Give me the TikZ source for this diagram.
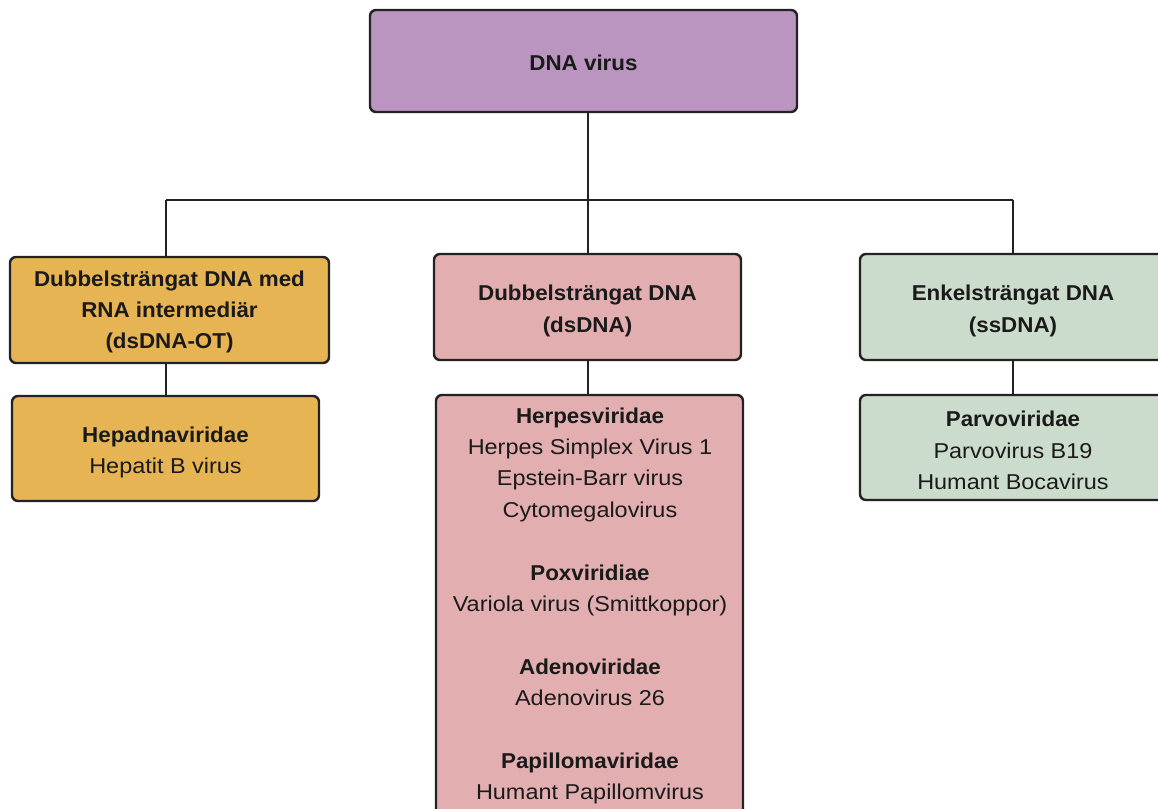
\documentclass[tikz,border=0pt]{standalone}
\usepackage{fontspec}
\setmainfont{Liberation Sans}[UprightFeatures={FakeStretch=1.09},BoldFeatures={FakeStretch=1.04}]
\definecolor{cpurple}{HTML}{B995BF}
\definecolor{corange}{HTML}{E6B453}
\definecolor{cpink}{HTML}{E2AEB0}
\definecolor{cgreen}{HTML}{CCDCCC}
\definecolor{cline}{HTML}{222222}
\definecolor{ctext}{HTML}{1A1A1A}
\tikzset{
  box/.style={draw=cline, line width=2.4pt, rounded corners=6pt, inner sep=0pt},
  txt/.style={align=center, text=ctext, inner sep=0pt, font=\fontsize{21.5}{31.4}\selectfont},
  conn/.style={draw=cline, line width=2pt},
}
\begin{document}
\begin{tikzpicture}[x=1pt,y=-1pt]
\useasboundingbox (0,0) rectangle (1158,808);
\clip (0,0) rectangle (1158,808);
\fill[white] (0,0) rectangle (1158,808);
\node[box, fill=cpurple, minimum width=427pt, minimum height=102pt] (top) at (583.5,61) {};
\node[txt] (toptxt) at ([yshift=-2pt]top.center) {\textbf{DNA virus}};
\node[box, fill=corange, minimum width=319pt, minimum height=106pt] (l1) at (169.5,310) {};
\node[txt] (l1txt) at ([yshift=-2pt]l1.center) {\textbf{Dubbelsträngat DNA med}\\\textbf{RNA intermediär}\\\textbf{(dsDNA-OT)}};
\node[box, fill=corange, minimum width=307pt, minimum height=105pt] (l2) at (165.5,448.5) {};
\node[txt] (l2txt) at ([yshift=-4pt]l2.center) {\textbf{Hepadnaviridae}\\Hepatit B virus};
\node[box, fill=cpink, minimum width=307pt, minimum height=106pt] (m1) at (587.5,307) {};
\node[txt] (m1txt) at ([yshift=-4pt]m1.center) {\textbf{Dubbelsträngat DNA}\\\textbf{(dsDNA)}};
\node[box, fill=cpink, minimum width=307pt, minimum height=430pt] (m2) at (589.5,610) {};
\node[txt] (m2txt) at (590,606) {\textbf{Herpesviridae}\\Herpes Simplex Virus 1\\Epstein-Barr virus\\Cytomegalovirus\\[31.4pt]\textbf{Poxviridiae}\\Variola virus (Smittkoppor)\\[31.4pt]\textbf{Adenoviridae}\\Adenovirus 26\\[31.4pt]\textbf{Papillomaviridae}\\Humant Papillomvirus};
\node[box, fill=cgreen, minimum width=306pt, minimum height=106pt] (r1) at (1013,307) {};
\node[txt] (r1txt) at ([yshift=-4pt]r1.center) {\textbf{Enkelsträngat DNA}\\\textbf{(ssDNA)}};
\node[box, fill=cgreen, minimum width=306pt, minimum height=105pt] (r2) at (1013,447.5) {};
\node[txt] (r2txt) at ([yshift=-3pt]r2.center) {\textbf{Parvoviridae}\\Parvovirus B19\\Humant Bocavirus};
\coordinate (jm) at (588,200);
\coordinate (jl) at (166,200);
\coordinate (jr) at (1013,200);
\draw[conn] (top.south -| jm) -- (jm);
\draw[conn] (jl) -- (jr);
\draw[conn] (jl) -- (l1.north -| jl);
\draw[conn] (jm) -- (m1.north -| jm);
\draw[conn] (jr) -- (r1.north);
\draw[conn] (l1.south -| jl) -- (l2.north -| jl);
\draw[conn] (m1.south -| jm) -- (m2.north -| jm);
\draw[conn] (r1.south) -- (r2.north);
\end{tikzpicture}
\end{document}
